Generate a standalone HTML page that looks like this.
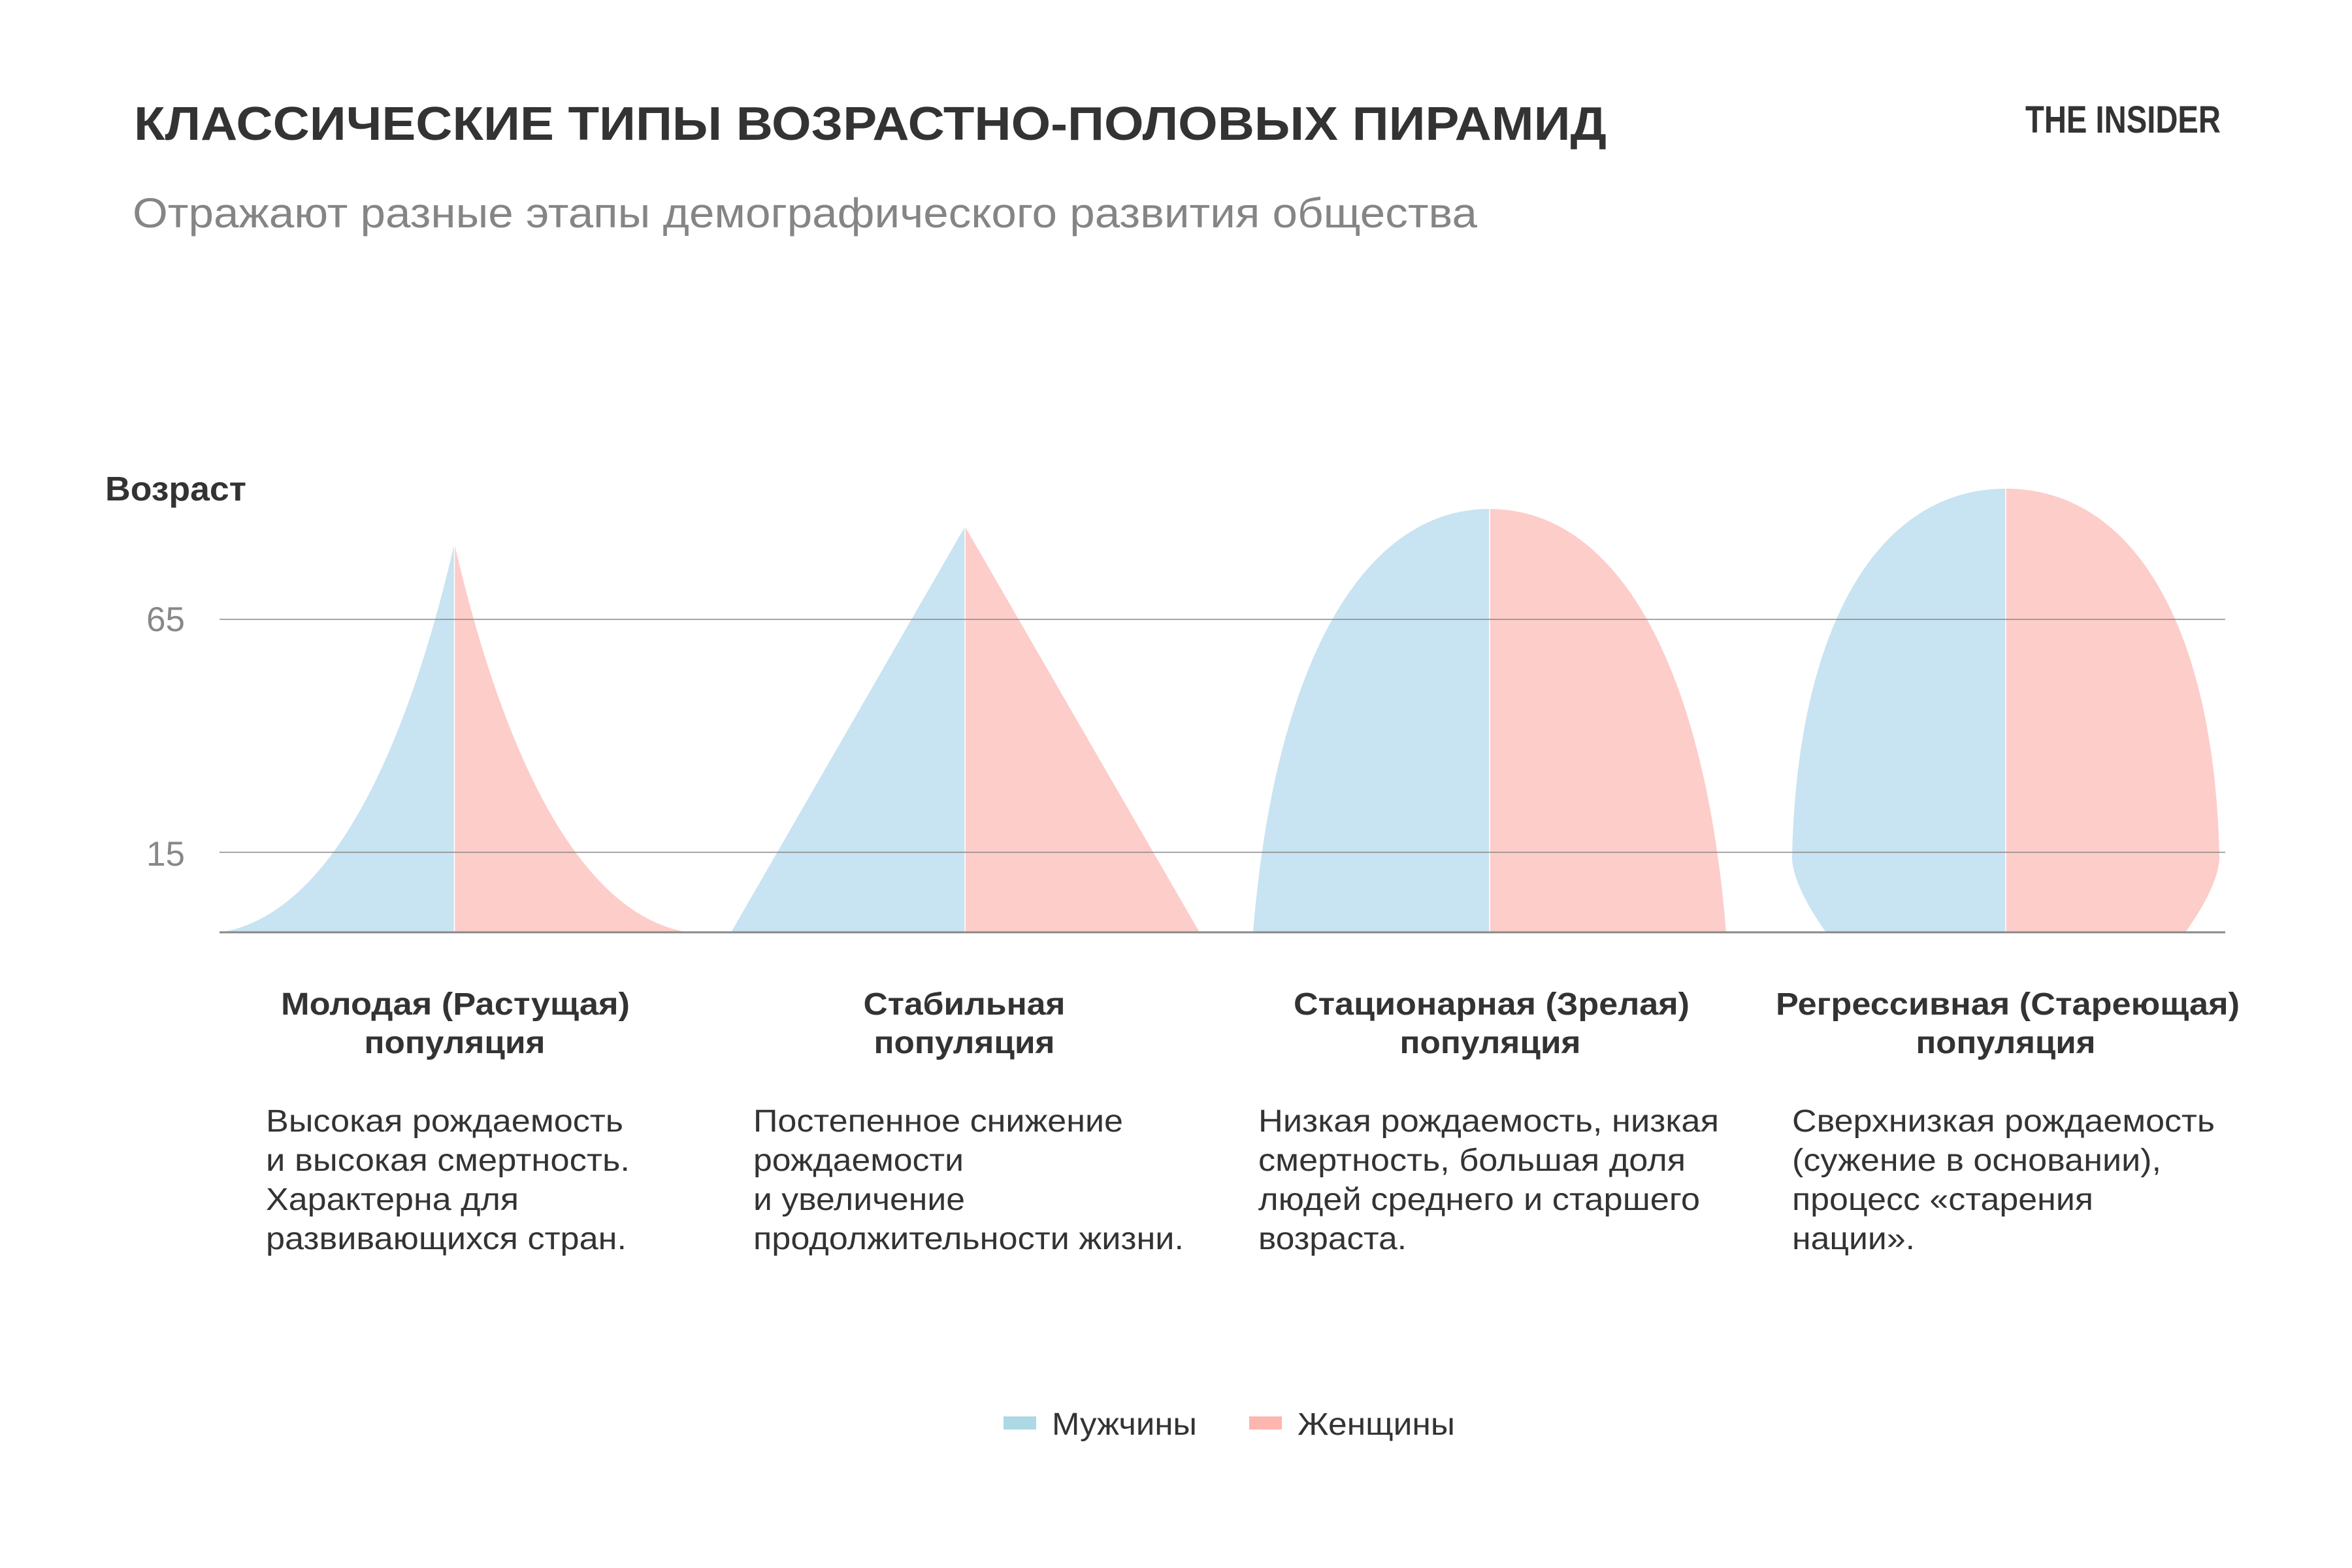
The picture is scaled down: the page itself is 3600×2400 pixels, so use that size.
<!DOCTYPE html>
<html lang="ru">
<head>
<meta charset="utf-8">
<style>
html,body{margin:0;padding:0;background:#fff;width:3600px;height:2400px;overflow:hidden}
svg{display:block}
text{font-family:"Liberation Sans", Arial, sans-serif}
</style>
</head>
<body>
<svg width="3600" height="2400" viewBox="0 0 3600 2400" xmlns="http://www.w3.org/2000/svg">
<rect x="0" y="0" width="3600" height="2400" fill="#ffffff"/>

<!-- Header -->
<text x="205" y="214" font-size="72" font-weight="bold" fill="#333333" textLength="2254" lengthAdjust="spacingAndGlyphs">КЛАССИЧЕСКИЕ ТИПЫ ВОЗРАСТНО-ПОЛОВЫХ ПИРАМИД</text>
<text x="203" y="348" font-size="64" fill="#858585" textLength="2058" lengthAdjust="spacingAndGlyphs">Отражают разные этапы демографического развития общества</text>
<text x="3100" y="203" font-size="58" font-weight="bold" fill="#333333" textLength="299" lengthAdjust="spacingAndGlyphs">THE INSIDER</text>

<!-- Axis title -->
<text x="161" y="766" font-size="52" font-weight="bold" fill="#333333" textLength="216" lengthAdjust="spacingAndGlyphs">Возраст</text>

<!-- Tick labels -->
<text x="283" y="966" font-size="53" fill="#888888" text-anchor="end">65</text>
<text x="283" y="1325" font-size="53" fill="#888888" text-anchor="end">15</text>

<!-- Pyramid 1: young -->
<path d="M695.5,832 C635.5,1092 525.5,1397 337.5,1427 L695.5,1427 Z" fill="#c8e3f1"/>
<path d="M695.5,832 C755.5,1092 865.5,1397 1053.5,1427 L695.5,1427 Z" fill="#fdcdca"/>

<!-- Pyramid 2: stable -->
<path d="M1477,806 L1119,1427 L1477,1427 Z" fill="#c8e3f1"/>
<path d="M1477,806 L1836,1427 L1477,1427 Z" fill="#fdcdca"/>

<!-- Pyramid 3: stationary -->
<path d="M2280,779 C2080,779 1950,1029 1918,1427 L2280,1427 Z" fill="#c8e3f1"/>
<path d="M2280,779 C2480,779 2610,1029 2642,1427 L2280,1427 Z" fill="#fdcdca"/>

<!-- Pyramid 4: regressive -->
<path d="M3070,748 C2870,748 2750,968 2743,1312 C2743,1338 2760,1378 2795,1427 L3070,1427 Z" fill="#c8e3f1"/>
<path d="M3070,748 C3270,748 3390,968 3397,1312 C3397,1338 3380,1378 3345,1427 L3070,1427 Z" fill="#fdcdca"/>

<!-- center seams -->
<line x1="695.5" y1="830" x2="695.5" y2="1427" stroke="#ffffff" stroke-width="1.5"/>
<line x1="1477" y1="804" x2="1477" y2="1427" stroke="#ffffff" stroke-width="1.5"/>
<line x1="2280" y1="777" x2="2280" y2="1427" stroke="#ffffff" stroke-width="1.5"/>
<line x1="3070" y1="746" x2="3070" y2="1427" stroke="#ffffff" stroke-width="1.5"/>

<!-- Gridlines -->
<line x1="336" y1="948" x2="3406" y2="948" stroke="#888888" stroke-width="1.5"/>
<line x1="336" y1="1304.5" x2="3406" y2="1304.5" stroke="#888888" stroke-width="1.5"/>
<!-- Axis -->
<line x1="336" y1="1427" x2="3406" y2="1427" stroke="#888888" stroke-width="3"/>

<!-- Category labels -->
<g font-size="48" font-weight="bold" fill="#333333" text-anchor="middle">
<text x="697" y="1553" textLength="534" lengthAdjust="spacingAndGlyphs">Молодая (Растущая)</text>
<text x="696" y="1612" textLength="277" lengthAdjust="spacingAndGlyphs">популяция</text>
<text x="1476" y="1553" textLength="309" lengthAdjust="spacingAndGlyphs">Стабильная</text>
<text x="1476" y="1612" textLength="277" lengthAdjust="spacingAndGlyphs">популяция</text>
<text x="2283" y="1553" textLength="606" lengthAdjust="spacingAndGlyphs">Стационарная (Зрелая)</text>
<text x="2281" y="1612" textLength="277" lengthAdjust="spacingAndGlyphs">популяция</text>
<text x="3073" y="1553" textLength="710" lengthAdjust="spacingAndGlyphs">Регрессивная (Стареющая)</text>
<text x="3070" y="1612" textLength="275" lengthAdjust="spacingAndGlyphs">популяция</text>
</g>

<!-- Descriptions -->
<g font-size="48" fill="#333333">
<text x="407" y="1732" textLength="547" lengthAdjust="spacingAndGlyphs">Высокая рождаемость</text>
<text x="407" y="1792" textLength="557" lengthAdjust="spacingAndGlyphs">и высокая смертность.</text>
<text x="407" y="1852" textLength="387" lengthAdjust="spacingAndGlyphs">Характерна для</text>
<text x="407" y="1912" textLength="552" lengthAdjust="spacingAndGlyphs">развивающихся стран.</text>

<text x="1153" y="1732" textLength="566" lengthAdjust="spacingAndGlyphs">Постепенное снижение</text>
<text x="1153" y="1792" textLength="322" lengthAdjust="spacingAndGlyphs">рождаемости</text>
<text x="1153" y="1852" textLength="324" lengthAdjust="spacingAndGlyphs">и увеличение</text>
<text x="1153" y="1912" textLength="659" lengthAdjust="spacingAndGlyphs">продолжительности жизни.</text>

<text x="1926" y="1732" textLength="705" lengthAdjust="spacingAndGlyphs">Низкая рождаемость, низкая</text>
<text x="1926" y="1792" textLength="654" lengthAdjust="spacingAndGlyphs">смертность, большая доля</text>
<text x="1926" y="1852" textLength="676" lengthAdjust="spacingAndGlyphs">людей среднего и старшего</text>
<text x="1926" y="1912" textLength="227" lengthAdjust="spacingAndGlyphs">возраста.</text>

<text x="2743" y="1732" textLength="647" lengthAdjust="spacingAndGlyphs">Сверхнизкая рождаемость</text>
<text x="2743" y="1792" textLength="565" lengthAdjust="spacingAndGlyphs">(сужение в основании),</text>
<text x="2743" y="1852" textLength="461" lengthAdjust="spacingAndGlyphs">процесс «старения</text>
<text x="2743" y="1912" textLength="188" lengthAdjust="spacingAndGlyphs">нации».</text>
</g>

<!-- Legend -->
<rect x="1536" y="2168" width="50" height="20" fill="#add8e6"/>
<text x="1610" y="2196" font-size="48" fill="#333333" textLength="222" lengthAdjust="spacingAndGlyphs">Мужчины</text>
<rect x="1912" y="2168" width="50" height="20" fill="#fdb6b0"/>
<text x="1986" y="2196" font-size="48" fill="#333333" textLength="241" lengthAdjust="spacingAndGlyphs">Женщины</text>
</svg>
</body>
</html>
